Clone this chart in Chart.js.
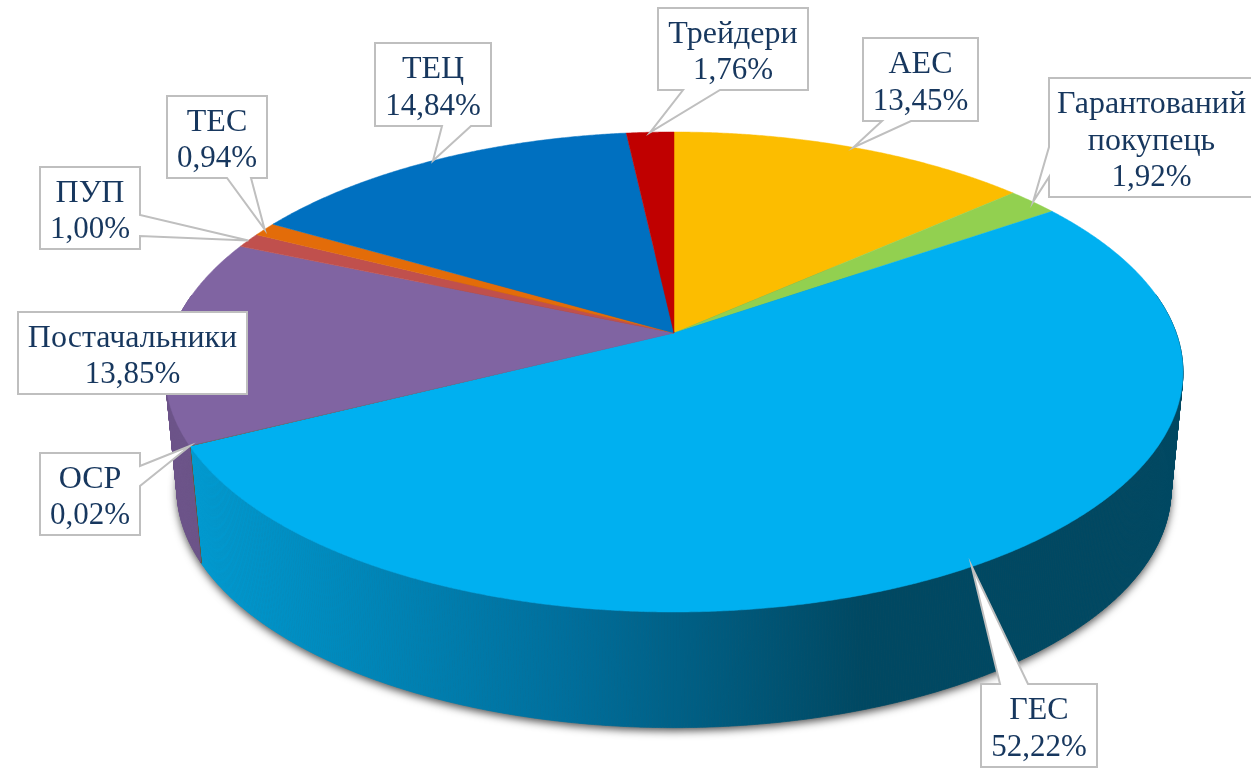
<!DOCTYPE html>
<html>
<head>
<meta charset="utf-8">
<title>Pie</title>
<script src="https://cdn.jsdelivr.net/npm/chart.js@4/dist/chart.umd.min.js"></script>
<style>
  html, body { margin: 0; padding: 0; background: #fff; }
  canvas { display: block; }
</style>
</head>
<body>
<canvas id="canvas" width="1251" height="768"></canvas>
<script>
const categories = ['АЕС', ['Гарантований', 'покупець'], 'ГЕС', 'ОСР', 'Постачальники', 'ПУП', 'ТЕС', 'ТЕЦ', 'Трейдери'];
const shares = [13.45, 1.92, 52.22, 0.02, 13.85, 1.00, 0.94, 14.84, 1.76];
const colors = ['#FCBD00', '#92D050', '#00B0F0', '#7F6000', '#8064A2', '#C0504D', '#E36C09', '#0070C0', '#C00000'];

// callout boxes: x, y, w, h, side the pointer leaves from, pointer base on that side
const callouts = [
    { x: 863, y: 38, w: 115, h: 83, side: 'bottom', a: 882, b: 911 },
    { x: 1049, y: 78, w: 205, h: 119, side: 'left', a: 147, b: 177 },
    { x: 981, y: 684, w: 116, h: 83, side: 'top', a: 1000, b: 1028 },
    { x: 40, y: 453, w: 100, h: 82, side: 'right', a: 466, b: 486 },
    { x: 18, y: 312, w: 229, h: 82, side: null },
    { x: 40, y: 167, w: 100, h: 82, side: 'right', a: 215, b: 236 },
    { x: 167, y: 96, w: 100, h: 82, side: 'bottom', a: 227, b: 251 },
    { x: 375, y: 43, w: 116, h: 83, side: 'bottom', a: 442, b: 471 },
    { x: 658, y: 8, w: 150, h: 82, side: 'bottom', a: 683, b: 720 }
];

// perspective of the disc: circle point -> screen
const topFace = { cx: 674, cy: 333, a: 502.2, b: 233.66, k: -0.1625 };
const bottomFace = { cx: 674, cy: 451, a: 490.4, b: 231.7, k: -0.1625 };

function project(angle, face) {
    const u = Math.cos(angle), v = Math.sin(angle), w = 1 + face.k * v;
    return { x: face.cx + face.a * u / w, y: face.cy + face.b * v / w };
}

function sweep(arc) {
    const n = Math.max(2, Math.ceil((arc.endAngle - arc.startAngle) / 0.005));
    const angles = [];
    for (let i = 0; i <= n; i++) {
        angles.push(arc.startAngle + (arc.endAngle - arc.startAngle) * i / n);
    }
    return angles;
}

function darken(hex, f) {
    const n = parseInt(hex.slice(1), 16);
    return `rgb(${((n >> 16) & 255) * f}, ${((n >> 8) & 255) * f}, ${(n & 255) * f})`;
}

const disc3d = {
    id: 'disc3d',
    beforeDatasetsDraw(chart) {
        const ctx = chart.ctx;
        const arcs = chart.getDatasetMeta(0).data;

        // soft shadow under the disc, shape itself stays off canvas
        ctx.save();
        ctx.shadowColor = 'rgba(0, 0, 0, 0.7)';
        ctx.shadowBlur = 8;
        ctx.shadowOffsetX = 3000;
        ctx.shadowOffsetY = 3;
        ctx.fillStyle = '#000';
        ctx.beginPath();
        for (let i = 0; i < 720; i++) {
            const p = project(i * Math.PI / 360, bottomFace);
            ctx.lineTo(p.x - 3000, p.y);
        }
        ctx.closePath();
        ctx.fill();
        ctx.restore();

        // side wall, only the part that faces the viewer
        const blueWall = ctx.createLinearGradient(190, 0, 1180, 0);
        blueWall.addColorStop(0, 'rgb(0, 155, 210)');
        blueWall.addColorStop(0.385, 'rgb(0, 110, 155)');
        blueWall.addColorStop(0.68, 'rgb(0, 72, 98)');
        blueWall.addColorStop(1, 'rgb(0, 72, 98)');
        arcs.forEach((arc, i) => {
            const wall = categories[i] === 'ГЕС' ? blueWall : darken(colors[i], 0.85);
            const angles = sweep(arc);
            ctx.fillStyle = wall;
            ctx.strokeStyle = wall;
            ctx.lineWidth = 0.7;
            for (let j = 0; j < angles.length - 1; j++) {
                if (Math.sin(angles[j]) < -0.17 || Math.sin(angles[j + 1]) < -0.17) continue;
                const t0 = project(angles[j], topFace), t1 = project(angles[j + 1], topFace);
                const b0 = project(angles[j], bottomFace), b1 = project(angles[j + 1], bottomFace);
                ctx.beginPath();
                ctx.moveTo(t0.x, t0.y);
                ctx.lineTo(t1.x, t1.y);
                ctx.lineTo(b1.x, b1.y);
                ctx.lineTo(b0.x, b0.y);
                ctx.closePath();
                ctx.fill();
                ctx.stroke();
            }
        });

        // top face
        arcs.forEach(arc => {
            ctx.beginPath();
            ctx.moveTo(topFace.cx, topFace.cy);
            sweep(arc).forEach(a => {
                const p = project(a, topFace);
                ctx.lineTo(p.x, p.y);
            });
            ctx.closePath();
            ctx.fillStyle = arc.options.backgroundColor;
            ctx.fill();
            if (arc.endAngle - arc.startAngle > 0.01) {
                ctx.strokeStyle = arc.options.backgroundColor;
                ctx.lineWidth = 0.5;
                ctx.stroke();
            }
        });
        return false;
    },
    afterDraw(chart) {
        const ctx = chart.ctx;
        const arcs = chart.getDatasetMeta(0).data;
        arcs.forEach((arc, i) => {
            const c = callouts[i];
            const tip = project((arc.startAngle + arc.endAngle) / 2, topFace);
            const r = c.x + c.w, d = c.y + c.h;

            ctx.beginPath();
            ctx.moveTo(c.x, c.y);
            if (c.side === 'top') { ctx.lineTo(c.a, c.y); ctx.lineTo(tip.x, tip.y); ctx.lineTo(c.b, c.y); }
            ctx.lineTo(r, c.y);
            if (c.side === 'right') { ctx.lineTo(r, c.a); ctx.lineTo(tip.x, tip.y); ctx.lineTo(r, c.b); }
            ctx.lineTo(r, d);
            if (c.side === 'bottom') { ctx.lineTo(c.b, d); ctx.lineTo(tip.x, tip.y); ctx.lineTo(c.a, d); }
            ctx.lineTo(c.x, d);
            if (c.side === 'left') { ctx.lineTo(c.x, c.b); ctx.lineTo(tip.x, tip.y); ctx.lineTo(c.x, c.a); }
            ctx.closePath();
            ctx.fillStyle = '#fff';
            ctx.strokeStyle = '#bfbfbf';
            ctx.lineWidth = 2;
            ctx.lineJoin = 'miter';
            ctx.fill();
            ctx.stroke();

            const lines = [].concat(categories[i], shares[i].toFixed(2).replace('.', ',') + '%');
            ctx.fillStyle = '#17375E';
            ctx.textAlign = 'center';
            ctx.textBaseline = 'alphabetic';
            const mid = c.y + c.h / 2;
            const textX = Math.min(c.x + c.w / 2, 1153);
            lines.forEach((line, j) => {
                // the percent line is a touch narrower in the original
                ctx.font = (j === lines.length - 1 ? '31px' : '32px') + ' "Liberation Serif"';
                ctx.fillText(line, textX, mid + 12 + (j - (lines.length - 1) / 2) * 36.5);
            });
        });
    }
};

const myChart = new Chart(document.querySelector('#canvas'), {
    type: 'pie',
    data: {
        labels: categories,
        datasets: [{ data: shares, backgroundColor: colors, borderWidth: 0 }]
    },
    options: {
        responsive: false,
        animation: false,
        plugins: { legend: { display: false }, tooltip: { enabled: false } }
    },
    plugins: [disc3d]
});
</script>
</body>
</html>
